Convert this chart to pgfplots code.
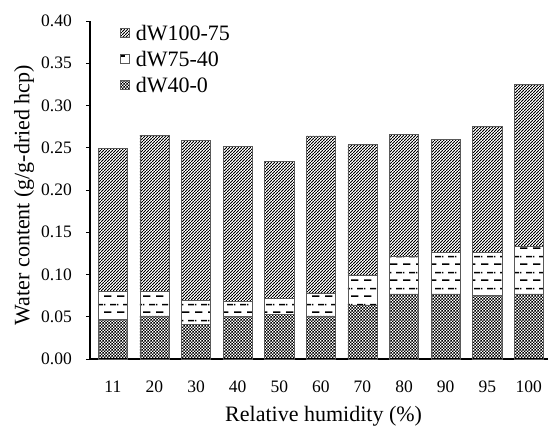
\documentclass[border=0pt]{standalone}
\usepackage{pgfplots}
\pgfplotsset{compat=1.18}
\usepackage{fontspec}
\setmainfont{Liberation Serif}
\usetikzlibrary{patterns}

\pgfdeclarepatternformonly{mydiag}{\pgfpointorigin}{\pgfpoint{3.4pt}{3.4pt}}{\pgfpoint{3.4pt}{3.4pt}}{%
  \pgfsetlinewidth{0.85pt}%
  \pgfpathmoveto{\pgfpoint{-0.5pt}{-0.5pt}}%
  \pgfpathlineto{\pgfpoint{3.9pt}{3.9pt}}%
  \pgfusepath{stroke}}
\pgfdeclarepatternformonly{mychecker}{\pgfpointorigin}{\pgfpoint{3.4pt}{3.4pt}}{\pgfpoint{3.4pt}{3.4pt}}{%
  \pgfpathrectangle{\pgfpointorigin}{\pgfpoint{1.7pt}{1.7pt}}%
  \pgfpathrectangle{\pgfpoint{1.7pt}{1.7pt}}{\pgfpoint{1.7pt}{1.7pt}}%
  \pgfusepath{fill}}
\pgfdeclarepatternformonly{mydash}{\pgfpointorigin}{\pgfpoint{13pt}{16pt}}{\pgfpoint{13pt}{16pt}}{%
  \pgfsetlinewidth{1.6pt}%
  \pgfpathmoveto{\pgfpoint{0pt}{4pt}}\pgfpathlineto{\pgfpoint{8pt}{4pt}}%
  \pgfpathmoveto{\pgfpoint{6.5pt}{12pt}}\pgfpathlineto{\pgfpoint{13pt}{12pt}}%
  \pgfpathmoveto{\pgfpoint{0pt}{12pt}}\pgfpathlineto{\pgfpoint{1.5pt}{12pt}}%
  \pgfusepath{stroke}}

\begin{document}
\begin{tikzpicture}
\useasboundingbox (-90pt,-69pt) rectangle (458pt,359pt);
\begin{axis}[
  scale only axis,
  width=458pt, height=338pt,
  ybar stacked,
  bar width=0.7,
  xmin=-0.55, xmax=10.46,
  ymin=0, ymax=0.40,
  ytick={0,0.05,...,0.40},
  xtick={0,...,10},
  xticklabels={11,20,30,40,50,60,70,80,90,95,100},
  x tick style={draw=none},
  y tick style={black, line width=1pt},
  tick align=outside,
  major tick length=4pt,
  axis x line*=bottom,
  axis y line*=left,
  axis line style={black, line width=1.2pt, -},
  /pgf/number format/assume math mode=true,
  yticklabel style={/pgf/number format/fixed, /pgf/number format/fixed zerofill, /pgf/number format/precision=2,
    anchor=east, inner sep=0pt, xshift=-14pt},
  xticklabel style={yshift=-14pt},
  tick label style={font=\fontsize{17.5}{20}\selectfont},
  label style={font=\fontsize{22}{26}\selectfont},
  xlabel={Relative humidity (\%)},
  ylabel={Water content (g/g-dried hcp)},
  xlabel style={at={(axis description cs:0.51,0)}, anchor=center, yshift=-57pt},
  ylabel style={at={(axis description cs:-0.144,0.485)}, anchor=center},
  legend style={draw=none, fill=none, at={(axis description cs:0,1)}, anchor=north west,
    xshift=30pt, yshift=-4.5pt,
    font=\fontsize{22}{26}\selectfont, row sep=9pt, inner sep=0pt,
    nodes={inner sep=0pt}},
  legend cell align=left,
  reverse legend,
  legend image code/.code={\draw[#1, line width=0.6pt] (0pt,-3.5pt) rectangle (9pt,5.5pt); \path (15pt,0pt);},
]
\addplot[draw=black!65, line width=0.6pt, pattern=mychecker] coordinates {
(0,0.047) (1,0.051) (2,0.041) (3,0.050) (4,0.053) (5,0.051) (6,0.064) (7,0.077) (8,0.077) (9,0.075) (10,0.077)};
\addplot[draw=black!65, line width=0.6pt, pattern=mydash] coordinates {
(0,0.033) (1,0.029) (2,0.029) (3,0.018) (4,0.019) (5,0.027) (6,0.035) (7,0.045) (8,0.049) (9,0.051) (10,0.056)};
\addplot[draw=black!65, line width=0.6pt, pattern=mydiag] coordinates {
(0,0.169) (1,0.185) (2,0.189) (3,0.184) (4,0.162) (5,0.186) (6,0.155) (7,0.144) (8,0.134) (9,0.149) (10,0.192)};
\legend{dW40-0,dW75-40,dW100-75}
\end{axis}
\end{tikzpicture}
\end{document}
